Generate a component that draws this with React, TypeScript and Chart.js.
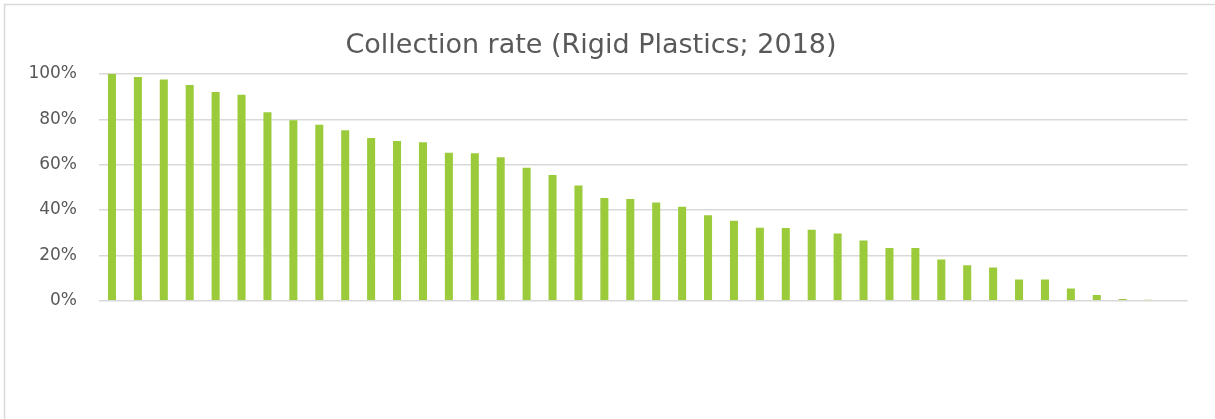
import { useEffect, useRef } from "react";
import { Chart, registerables } from "chart.js";

Chart.register(...registerables);

// Rank positions along the x axis (labels are not drawn)
const rankLabels = [
  "1", "2", "3", "4", "5", "6", "7", "8", "9", "10",
  "11", "12", "13", "14", "15", "16", "17", "18", "19", "20",
  "21", "22", "23", "24", "25", "26", "27", "28", "29", "30",
  "31", "32", "33", "34", "35", "36", "37", "38", "39", "40",
  "41", "42",
];

// Collection rate, share of rigid plastics collected (0..1)
const collectionRate = [
  1.0, 0.987, 0.976, 0.952, 0.921, 0.909, 0.831, 0.796, 0.776, 0.752,
  0.718, 0.705, 0.699, 0.653, 0.65, 0.633, 0.587, 0.555, 0.508, 0.453,
  0.449, 0.433, 0.414, 0.377, 0.353, 0.322, 0.321, 0.313, 0.296, 0.266,
  0.233, 0.233, 0.182, 0.156, 0.147, 0.093, 0.093, 0.054, 0.025, 0.007,
  0.004, 0,
];

const yTicks = [0, 0.2, 0.4, 0.6, 0.8, 1.0];

const TITLE = "Collection rate (Rigid Plastics; 2018)";
const FONT = "'DejaVu Sans', sans-serif";
const TEXT_GREY = "#595959";
const GRID_GREY = "#D9D9D9";
const BAR_GREEN = "#9BCB3B";

// Paints the white background, the light frame and the chart title
const framePlugin = {
  id: "frameAndTitle",
  beforeDraw(chart: Chart) {
    const { ctx, width, height } = chart;
    ctx.save();
    ctx.fillStyle = "#ffffff";
    ctx.fillRect(0, 0, width, height);
    ctx.strokeStyle = GRID_GREY;
    ctx.lineWidth = 1.5;
    ctx.beginPath();
    ctx.moveTo(4.5, height + 2);
    ctx.lineTo(4.5, 4.5);
    ctx.lineTo(width + 2, 4.5);
    ctx.stroke();
    ctx.restore();
  },
  afterDraw(chart: Chart) {
    const { ctx } = chart;
    ctx.save();
    ctx.fillStyle = TEXT_GREY;
    ctx.font = `27px ${FONT}`;
    ctx.textAlign = "center";
    ctx.textBaseline = "alphabetic";
    ctx.fillText(TITLE, 591, 53);
    ctx.restore();
  },
};

export default function App() {
  const canvasRef = useRef<HTMLCanvasElement | null>(null);

  useEffect(() => {
    const canvas = canvasRef.current;
    if (!canvas) return;
    const chart = new Chart(canvas, {
      type: "bar",
      data: {
        labels: rankLabels,
        datasets: [
          {
            label: "Collection rate",
            data: collectionRate,
            backgroundColor: BAR_GREEN,
            borderWidth: 0,
            categoryPercentage: 1,
            barPercentage: 0.31,
          },
        ],
      },
      options: {
        responsive: false,
        animation: false,
        layout: { padding: { top: 74, right: 27.5, bottom: 118.3, left: 0 } },
        plugins: {
          legend: { display: false },
          title: { display: false },
          tooltip: { enabled: false },
        },
        scales: {
          x: { display: false },
          y: {
            min: 0,
            max: 1,
            afterFit(axis: any) {
              axis.width = 99;
            },
            afterBuildTicks(axis: any) {
              axis.ticks = yTicks.map((v) => ({ value: v }));
            },
            border: { display: false },
            grid: { color: GRID_GREY, lineWidth: 1.5, drawTicks: false },
            ticks: {
              padding: 22,
              color: TEXT_GREY,
              font: { family: FONT, size: 17 },
              callback: (v: any) => `${Math.round(Number(v) * 100)}%`,
            },
          },
        },
      },
      plugins: [framePlugin],
    });
    return () => chart.destroy();
  }, []);

  return (
    <div style={{ position: "fixed", left: 0, top: 0, width: 1215, height: 419 }}>
      <canvas ref={canvasRef} width={1215} height={419} />
    </div>
  );
}
